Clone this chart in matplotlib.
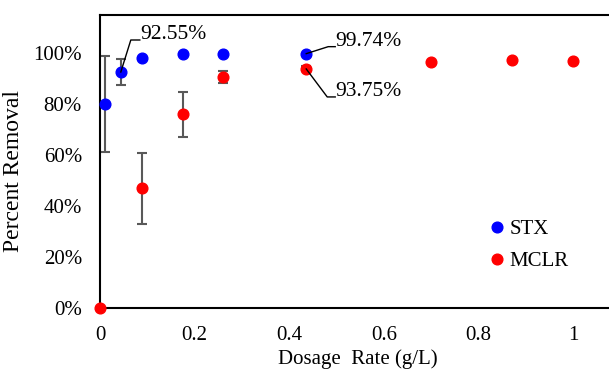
import matplotlib
matplotlib.use("Agg")
import matplotlib.pyplot as plt
import matplotlib.transforms as mtransforms
from matplotlib.ticker import PercentFormatter

# STX removal vs dosage
stx_dose = [0.01, 0.044, 0.088, 0.175, 0.26, 0.436]
stx_removal = [0.800, 0.9255, 0.979, 0.995, 0.995, 0.9974]
stx_err = [0.189, 0.052, 0.0, 0.0, 0.0, 0.0]

# MCLR removal vs dosage
mclr_dose = [0.0, 0.088, 0.175, 0.26, 0.436, 0.70, 0.87, 1.0]
mclr_removal = [0.0, 0.469, 0.760, 0.905, 0.9375, 0.966, 0.973, 0.970]
mclr_err = [0.0, 0.138, 0.088, 0.024, 0.010, 0.0, 0.0, 0.0]

x_ticks = [0, 0.2, 0.4, 0.6, 0.8, 1.0]
x_tick_labels = ["0", "0.2", "0.4", "0.6", "0.8", "1"]
y_ticks = [0, 0.2, 0.4, 0.6, 0.8, 1.0]

# callouts: (dose, removal, text, elbow px, end px)
callouts = [
    (stx_dose[1], stx_removal[1], "92.55%", (10, 32), (19, 32)),
    (stx_dose[5], stx_removal[5], "99.74%", (22, 7), (29, 7)),
    (mclr_dose[4], mclr_removal[4], "93.75%", (21, -28), (29, -28)),
]

plt.rcParams["font.family"] = ["Liberation Serif", "DejaVu Serif"]

fig = plt.figure(figsize=(6.09, 3.71), dpi=100)
ax = fig.add_axes([100 / 609, 63 / 371, 509 / 609, 293 / 371])

ecol = "#595959"
ax.errorbar(stx_dose, stx_removal, yerr=stx_err, fmt="none", ecolor=ecol,
            elinewidth=1.5, capsize=3.5, capthick=1.5, zorder=2)
ax.errorbar(mclr_dose, mclr_removal, yerr=mclr_err, fmt="none", ecolor=ecol,
            elinewidth=1.5, capsize=3.5, capthick=1.5, zorder=2)
ax.plot(stx_dose, stx_removal, "o", color="#0000FF", ms=7.7, label="STX",
        zorder=3, clip_on=False)
ax.plot(mclr_dose, mclr_removal, "o", color="#FF0000", ms=7.7, label="MCLR",
        zorder=3, clip_on=False)

ax.set_xlim(0, 509 / 473)
ax.set_ylim(0, 293 / 255)
ax.set_xticks(x_ticks)
ax.set_xticklabels(x_tick_labels)
ax.set_yticks(y_ticks)
ax.yaxis.set_major_formatter(PercentFormatter(1.0, decimals=0))
ax.tick_params(length=0, labelsize=15)
ax.tick_params(axis="x", pad=13)
ax.tick_params(axis="y", pad=13)

for side in ["top", "left", "bottom"]:
    ax.spines[side].set_linewidth(1.5)
    ax.spines[side].set_color("black")
ax.spines["right"].set_visible(False)

ax.set_xlabel("Dosage  Rate (g/L)", fontsize=15, va="bottom")
ax.xaxis.set_label_coords(258 / 509, -61 / 293)
ax.set_ylabel("Percent Removal", fontsize=17)
ax.yaxis.set_label_coords(-76 / 509, (308 - 171.5) / 293)

for dx, dy, text, elbow, end in callouts:
    tr = fig.dpi_scale_trans + mtransforms.ScaledTranslation(dx, dy, ax.transData)
    ax.plot([0, elbow[0] / 100, end[0] / 100], [0, elbow[1] / 100, end[1] / 100],
            color="black", lw=1, transform=tr, clip_on=False, zorder=4)
    ax.annotate(text, xy=(dx, dy), xytext=(end[0], end[1] + 1),
                textcoords="offset pixels", ha="left", va="baseline", fontsize=15.5)

ax.legend(loc="upper left", bbox_to_anchor=(380 / 509, 0.338), frameon=False,
          fontsize=15, handlelength=0.6, handletextpad=0.3, labelspacing=0.62,
          borderpad=0, markerscale=1.0)

fig.savefig("out.png", dpi=100)
